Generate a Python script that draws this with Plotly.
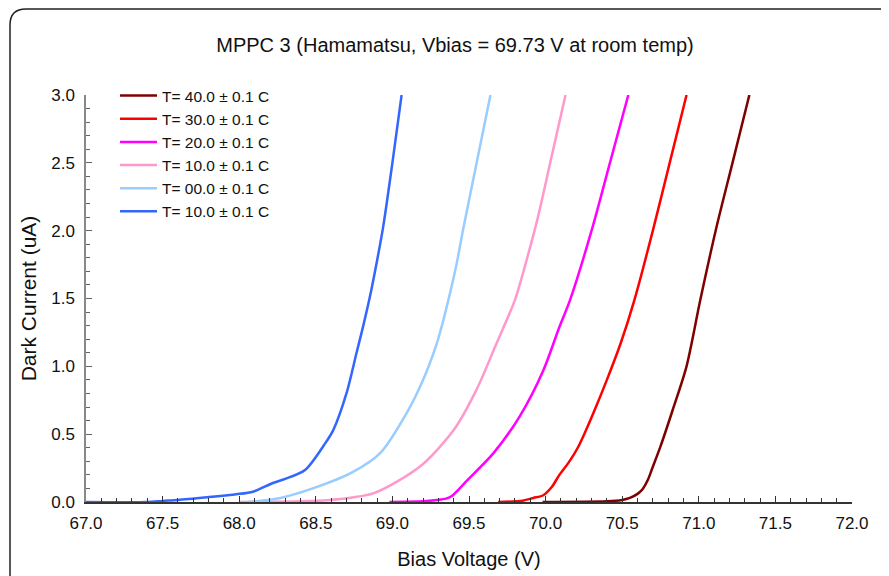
import plotly.graph_objects as go

names = ["T= 40.0 ± 0.1 C", "T= 30.0 ± 0.1 C", "T= 20.0 ± 0.1 C",
         "T= 10.0 ± 0.1 C", "T= 00.0 ± 0.1 C", "T= 10.0 ± 0.1 C"]
colors = ["#800000", "#ff0000", "#ff00ff", "#ff99cc", "#99ccff", "#3366ff"]

v_40 = [69.98, 70.40, 70.50, 70.55, 70.60, 70.63, 70.67, 70.70, 70.75, 70.83, 70.92, 71.01, 71.11, 71.22, 71.33]
i_40 = [0.0, 0.005, 0.015, 0.03, 0.06, 0.09, 0.17, 0.26, 0.41, 0.68, 1.00, 1.49, 2.00, 2.50, 3.00]

v_30 = [69.69, 69.85, 69.92, 69.985, 70.04, 70.09, 70.15, 70.21, 70.26, 70.31, 70.40, 70.49, 70.58, 70.70, 70.81, 70.92]
i_30 = [0.0, 0.01, 0.03, 0.05, 0.11, 0.20, 0.29, 0.40, 0.52, 0.65, 0.90, 1.17, 1.49, 2.00, 2.50, 3.00]

v_20 = [68.98, 69.20, 69.29, 69.35, 69.39, 69.43, 69.48, 69.66, 69.83, 69.985, 70.09, 70.16, 70.30, 70.42, 70.54]
i_20 = [0.0, 0.005, 0.015, 0.025, 0.045, 0.09, 0.15, 0.36, 0.63, 0.97, 1.29, 1.49, 2.00, 2.50, 3.00]

v_10 = [68.00, 68.40, 68.59, 68.75, 68.875, 69.03, 69.20, 69.40, 69.55, 69.68, 69.80, 69.88, 69.95, 70.04, 70.13]
i_10 = [0.0, 0.005, 0.015, 0.035, 0.064, 0.15, 0.28, 0.53, 0.83, 1.17, 1.49, 1.80, 2.10, 2.55, 3.00]

v_00 = [68.05, 68.15, 68.27, 68.48, 68.74, 68.92, 69.09, 69.20, 69.29, 69.33, 69.37, 69.42, 69.46, 69.55, 69.64]
i_00 = [0.0, 0.01, 0.03, 0.10, 0.22, 0.36, 0.65, 0.90, 1.17, 1.33, 1.51, 1.76, 2.00, 2.50, 3.00]

v_m10 = [67.00, 67.40, 67.50, 67.60, 67.79, 67.98, 68.09, 68.22, 68.30, 68.43, 68.56, 68.614,
         68.70, 68.766, 68.81, 68.86, 68.90, 68.94, 69.00, 69.06]
i_m10 = [0.0, 0.0, 0.008, 0.015, 0.035, 0.057, 0.076, 0.14, 0.17, 0.236, 0.43, 0.53,
         0.80, 1.10, 1.30, 1.55, 1.78, 2.03, 2.50, 3.00]

series_v = [v_40, v_30, v_20, v_10, v_00, v_m10]
series_i = [i_40, i_30, i_20, i_10, i_00, i_m10]

x_ticks = [67.0, 67.5, 68.0, 68.5, 69.0, 69.5, 70.0, 70.5, 71.0, 71.5, 72.0]
y_ticks = [0.0, 0.5, 1.0, 1.5, 2.0, 2.5, 3.0]

fig = go.Figure()
for n, c, vx, iy in zip(names, colors, series_v, series_i):
    fig.add_trace(go.Scatter(x=vx, y=iy, mode="lines", name=n,
                             line=dict(color=c, width=2.5, shape="spline", smoothing=0.8)))

# page has an 8px body margin; target page coordinates below
OFF = 8
W, H = 889 - OFF, 576 - OFF
L, R, T, B = 86, 852, 95, 502          # plot area in page pixels
pw, ph = R - L, B - T

def px(x):
    return (x - L) / pw

def py(y):
    return (B - y) / ph

# rounded frame (page pixels)
x0, y0, x1, y1, r = 10, 9, 905, 592, 16
path = (f"M {px(x0)},{py(y0 + r)} "
        f"Q {px(x0)},{py(y0)} {px(x0 + r)},{py(y0)} "
        f"L {px(x1 - r)},{py(y0)} "
        f"Q {px(x1)},{py(y0)} {px(x1)},{py(y0 + r)} "
        f"L {px(x1)},{py(y1 - r)} "
        f"Q {px(x1)},{py(y1)} {px(x1 - r)},{py(y1)} "
        f"L {px(x0 + r)},{py(y1)} "
        f"Q {px(x0)},{py(y1)} {px(x0)},{py(y1 - r)} Z")
fig.add_shape(type="path", path=path, xref="paper", yref="paper",
              line=dict(color="#222222", width=1.5), layer="below")

font = "Liberation Sans, Arial, sans-serif"
fig.update_layout(
    width=W, height=H,
    margin=dict(l=L - OFF, r=(W + OFF) - R, t=T - OFF, b=(H + OFF) - B, autoexpand=False),
    paper_bgcolor="white", plot_bgcolor="white",
    title=dict(text="MPPC 3 (Hamamatsu, Vbias = 69.73 V at room temp)",
               x=(455 - OFF) / W, xanchor="center", y=1 - (45 - OFF) / H, yanchor="middle",
               font=dict(family=font, size=20, color="#111111")),
    font=dict(family=font, color="#111111"),
    showlegend=True,
    legend=dict(x=px(115), y=py(79), xanchor="left", yanchor="top",
                bgcolor="rgba(0,0,0,0)", font=dict(family=font, size=15.5, color="#111111"),
                tracegroupgap=0, itemwidth=37),
    xaxis=dict(range=[67.0, 72.0], tickvals=x_ticks, ticktext=[f"{t:.1f}" for t in x_ticks],
               showgrid=False, zeroline=False, showline=True, linecolor="#333333", linewidth=1.5,
               ticks="inside", ticklen=6, tickcolor="#333333", ticklabelstandoff=5,
               minor=dict(dtick=0.1, ticks="inside", ticklen=4, tickcolor="#333333", showgrid=False),
               tickfont=dict(family=font, size=17, color="#111111"),
               title=dict(text="Bias Voltage (V)", font=dict(family=font, size=20, color="#111111"),
                          standoff=20)),
    yaxis=dict(range=[0.0, 3.0], tickvals=y_ticks, ticktext=[f"{t:.1f}" for t in y_ticks],
               showgrid=False, zeroline=False, showline=True, linecolor="#888888", linewidth=1.5,
               ticks="inside", ticklen=6, tickcolor="#666666", ticklabelstandoff=6,
               minor=dict(dtick=0.1, ticks="inside", ticklen=4, tickcolor="#666666", showgrid=False),
               tickfont=dict(family=font, size=17, color="#111111"),
               title=dict(text="Dark Current (uA)", font=dict(family=font, size=21, color="#111111"),
                          standoff=9)),
)

fig.write_html("out.html")
